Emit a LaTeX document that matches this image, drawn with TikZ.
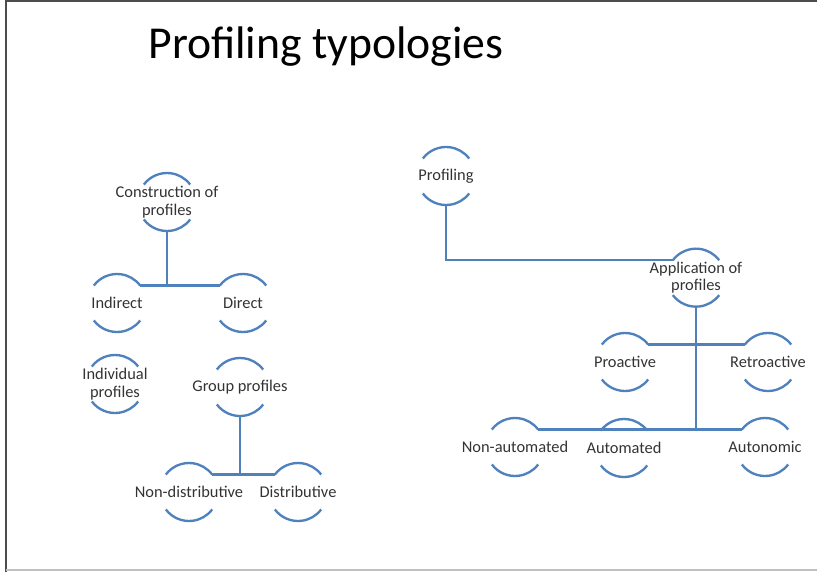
\documentclass[tikz,border=0pt]{standalone}
\usepackage{fontspec}
\setmainfont{Carlito}
\usepackage{tikz}
\definecolor{tieblue}{HTML}{4F81BD}

\begin{document}
\begin{tikzpicture}[
    lbl/.style={align=center, inner sep=0pt, text=black!80, font=\fontsize{14}{15}\selectfont},
    tie/.style={draw=tieblue, line width=2pt}]
    \useasboundingbox (0,0) rectangle (24.51,17.16);
    % frame of the slide
    \draw[black!70, line width=0.6mm] (0.18,0) -- (0.18,17.115) -- (24.51,17.115);
    \draw[black!25, line width=0.4mm] (0.18,0.06) -- (24.51,0.06);
    \node (title) at (9.78,15.75) {\fontsize{39}{40}\selectfont Profiling typologies};
    % construction of profiles
    \node[lbl] (cons) at (5.01,11.10) {Construction of\\profiles};
    \node[lbl] (indir) at (3.51,8.07) {Indirect};
    \node[lbl] (dir) at (7.29,8.07) {Direct};
    \node[lbl] (indiv) at (3.45,5.64) {Individual\\profiles};
    \node[lbl] (grp) at (7.20,5.55) {Group profiles};
    \node[lbl] (nondist) at (5.67,2.40) {Non-distributive};
    \node[lbl] (dist) at (8.94,2.40) {Distributive};
    % application of profiles
    \node[lbl] (prof) at (13.38,11.88) {Profiling};
    \node[lbl] (app) at (20.88,8.83) {Application of\\profiles};
    \node[lbl] (proact) at (18.75,6.30) {Proactive};
    \node[lbl] (retro) at (23.04,6.30) {Retroactive};
    \node[lbl] (nonauto) at (15.45,3.75) {Non-automated};
    \node[lbl] (auto) at (18.72,3.72) {Automated};
    \node[lbl] (auton) at (22.95,3.75) {Autonomic};
    % the two arcs round every label
    \def\r{0.87cm}
    \foreach \n in {cons,indir,dir,indiv,grp,nondist,dist,prof,app,proact,retro,nonauto,auto,auton} {
      \draw[tie] ([shift={(143:\r)}]\n.center) coordinate (\n-tl)
        arc[start angle=143, end angle=37, radius=\r] coordinate (\n-tr);
      \draw[tie] ([shift={(217:\r)}]\n.center) arc[start angle=217, end angle=323, radius=\r];
      \coordinate (\n-b) at ([yshift=-\r]\n.center);
    }
    % vertical lines
    \draw[tie] (cons-b) -- (cons-b |- indir-tr);
    \draw[tie] (grp-b) -- (grp-b |- nondist-tr);
    \draw[tie] (prof-b) |- (app-tl);
    \draw[tie] (app-b) -- (app-b |- nonauto-tr);
    % horizontal lines
    \draw[tie] (indir-tr) -- (dir-tl);
    \draw[tie] (nondist-tr) -- (dist-tl);
    \draw[tie] (proact-tr) -- (retro-tl);
    \draw[tie] (nonauto-tr) -- (auton-tl);
\end{tikzpicture}
\end{document}
